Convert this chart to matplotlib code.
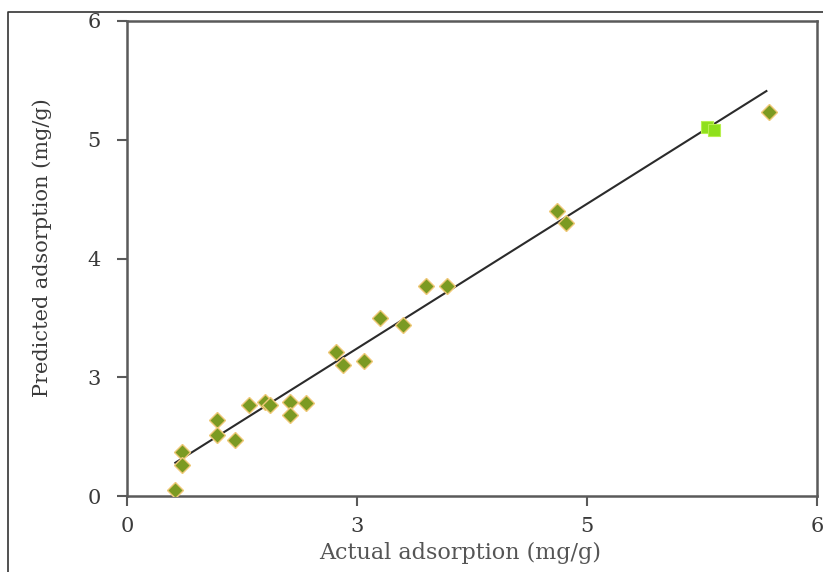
import numpy as np
import matplotlib
matplotlib.use('Agg')
import matplotlib.pyplot as plt
from matplotlib.lines import Line2D

# actual vs predicted adsorption (mg/g)
actual = [3.21, 3.24, 3.24, 3.39, 3.39, 3.47, 3.53, 3.60, 3.62, 3.71, 3.71, 3.78,
          3.91, 3.94, 4.03, 4.10, 4.20, 4.30, 4.39, 4.87, 4.91, 5.79]
predicted = [2.05, 2.37, 2.26, 2.64, 2.51, 2.47, 2.77, 2.79, 2.77, 2.79, 2.68, 2.78,
             3.21, 3.10, 3.14, 3.50, 3.44, 3.77, 3.77, 4.40, 4.30, 5.23]
# highlighted points
hl_actual = [5.52, 5.55]
hl_predicted = [5.11, 5.08]
# fitted line end points
fit_x = [3.21, 5.78]
fit_y = [2.28, 5.41]

xticks = [3, 4, 5, 6]
xticklabels = ['0', '3', '5', '6']
yticks = [2, 3, 4, 5, 6]
yticklabels = ['0', '3', '4', '5', '6']

plt.rcParams['font.family'] = ['DejaVu Serif']

fig = plt.figure(figsize=(8.23, 5.72), dpi=100)
ax = fig.add_axes([127/823, 76/572, 690/823, 475/572])

ax.plot(fit_x, fit_y, color='#2b2b2b', lw=1.5, zorder=2)
ax.plot(actual, predicted, 'D', ms=8.5, mfc='#7b9a22', mec='#efc878', mew=1.0, ls='none', zorder=3)
ax.plot(hl_actual, hl_predicted, 's', ms=9, mfc='#8fe01c', mec='#b8f050', mew=0.8, ls='none', zorder=4)

ax.set_xlim(3, 6)
ax.set_ylim(2, 6)
ax.set_xticks(xticks)
ax.set_xticklabels(xticklabels)
ax.set_yticks(yticks)
ax.set_yticklabels(yticklabels)

for s in ax.spines.values():
    s.set_color('#5a5a5a')
    s.set_linewidth(1.8)
ax.tick_params(axis='both', direction='out', length=7, width=1.5, color='#5a5a5a',
               labelsize=15, labelcolor='#3a3a3a')
ax.tick_params(axis='x', pad=8)
ax.tick_params(axis='y', pad=12)

ax.set_xlabel('Actual adsorption (mg/g)', fontsize=16, color='#555555')
ax.set_ylabel('Predicted adsorption (mg/g)', fontsize=15, color='#3a3a3a')
ax.xaxis.set_label_coords(0.483, -0.097)
ax.yaxis.set_label_coords(-0.109, 0.522)

# thin frame round the figure
fig.add_artist(Line2D([8/823, 8/823, 1.0], [0.0, 1 - 12/572, 1 - 12/572],
                      transform=fig.transFigure, color='#333333', lw=1.2))

fig.savefig('out.png', dpi=100)
